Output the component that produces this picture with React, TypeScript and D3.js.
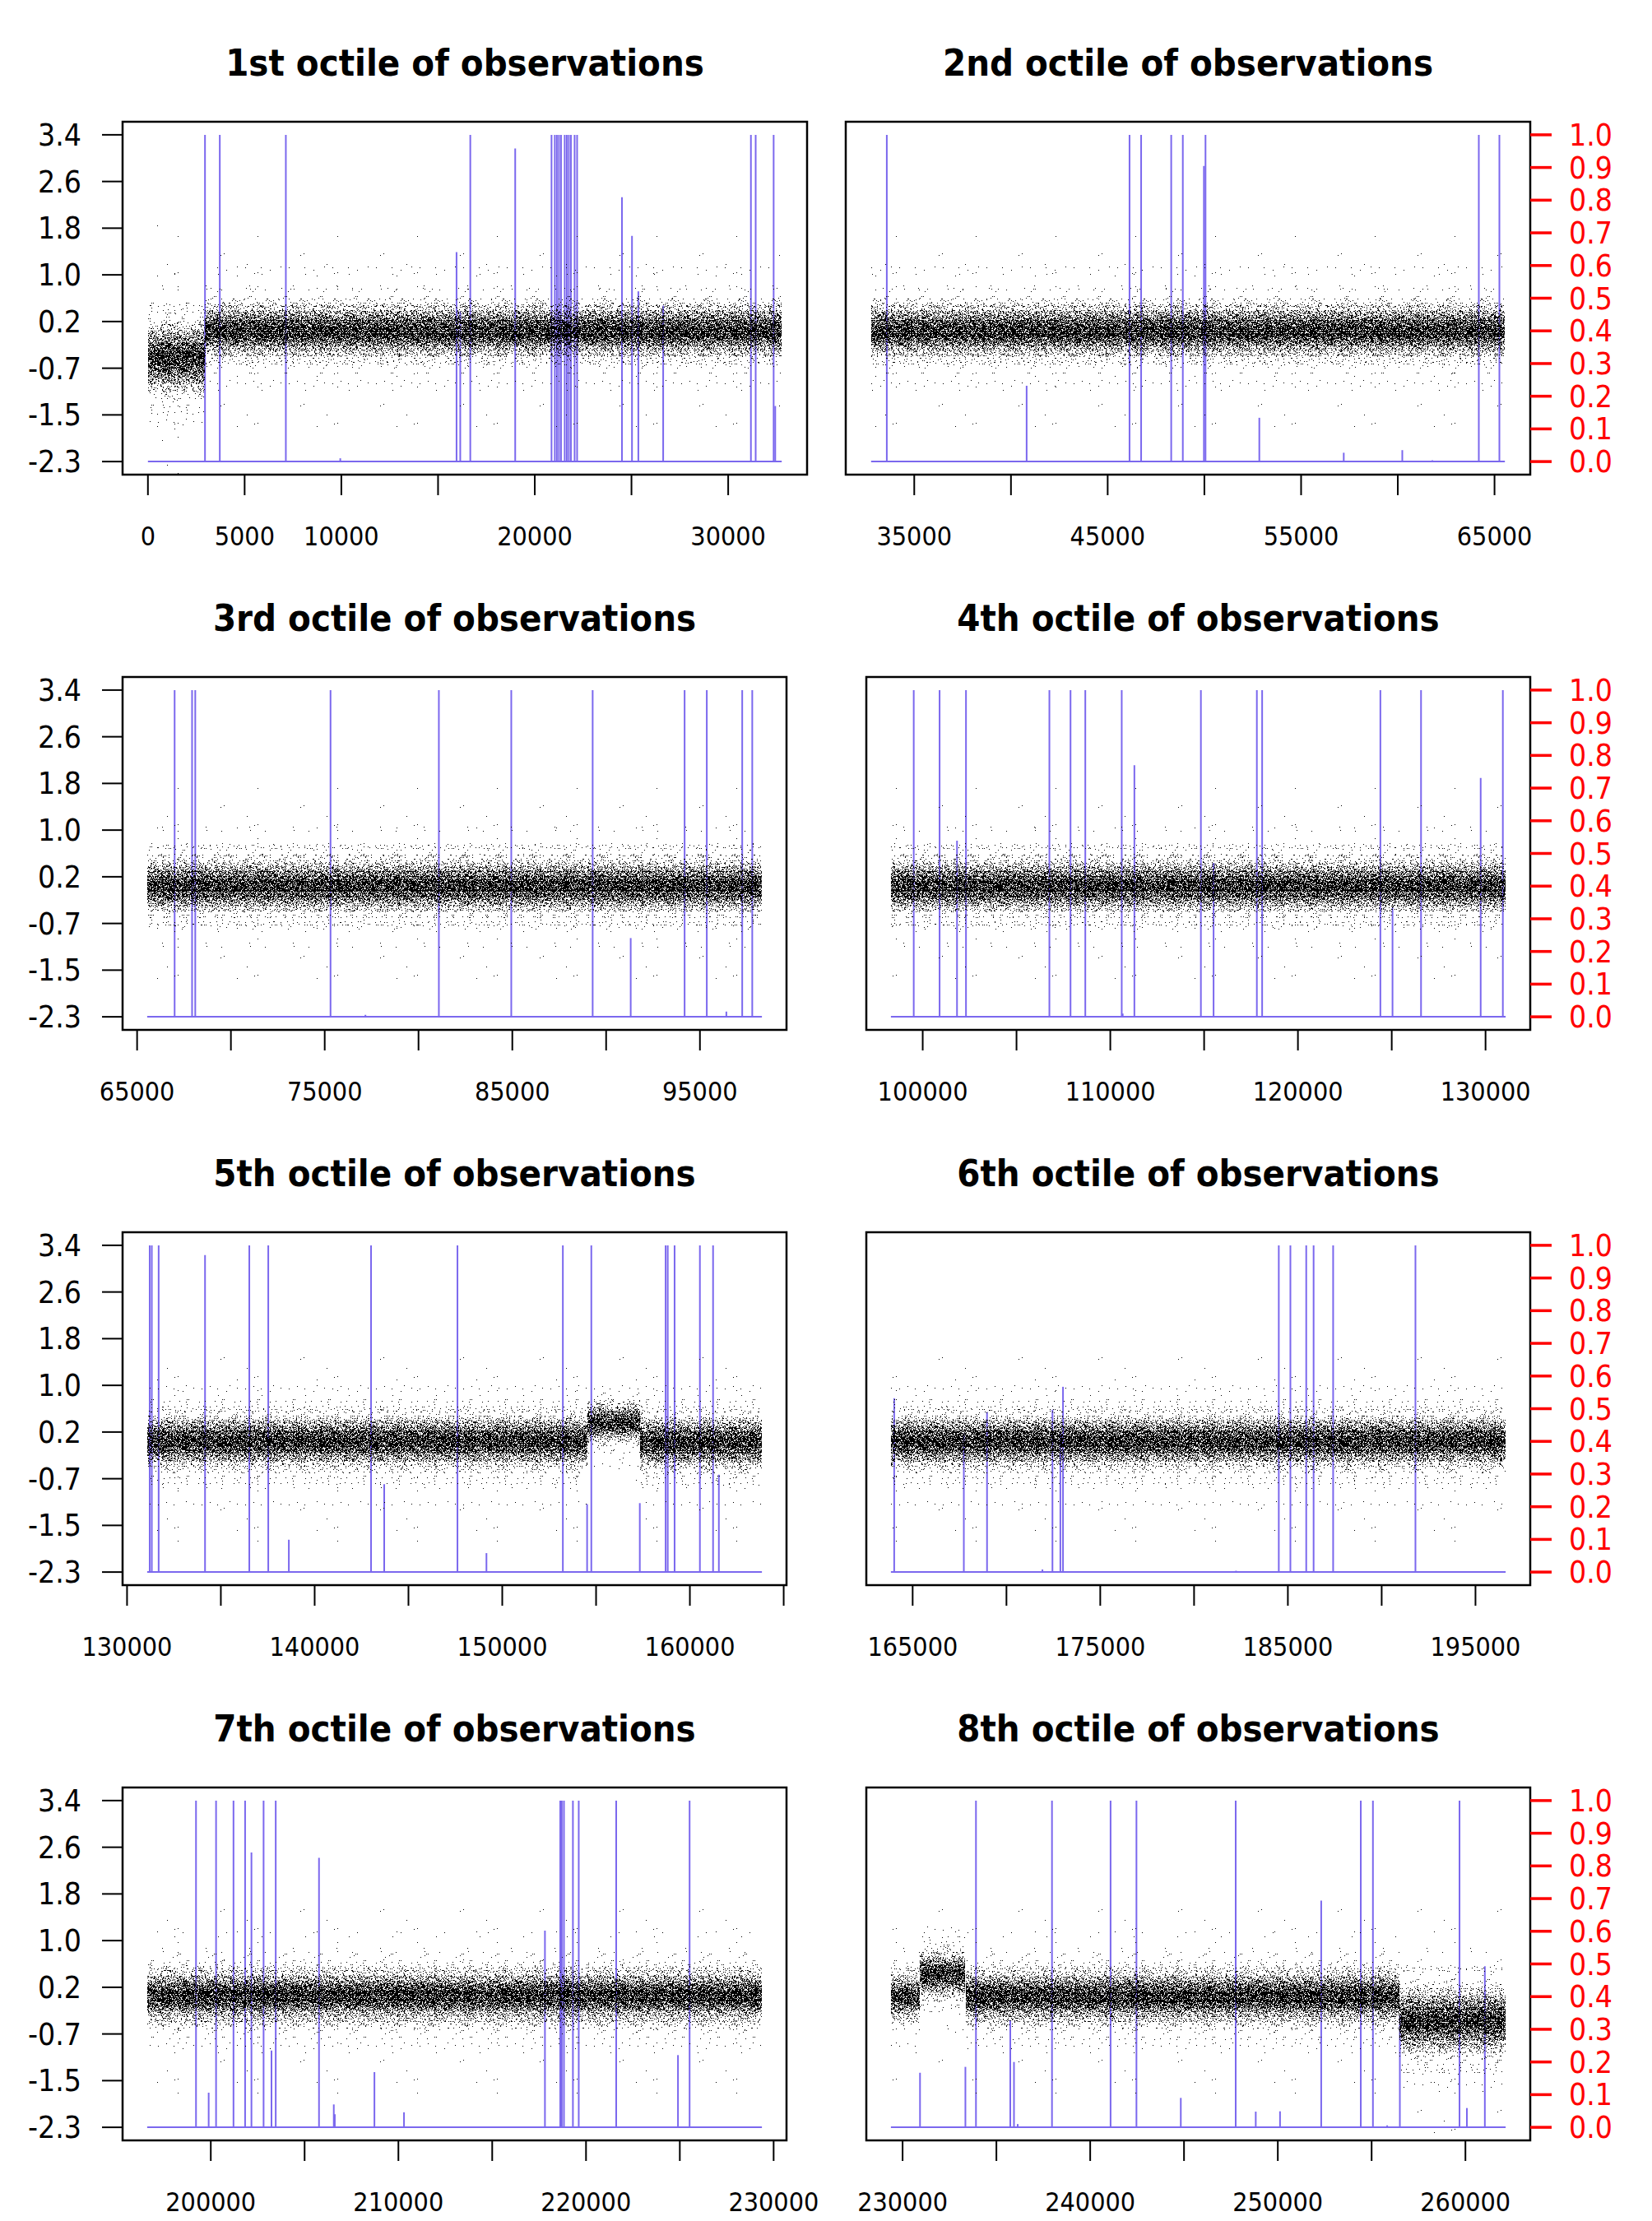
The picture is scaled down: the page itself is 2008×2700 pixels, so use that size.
import React from "react";
import * as d3 from "d3";

// ---------- data ----------
const OBS_PER_OCTILE = 32768;
const Y_MIN = -2.3;
const Y_MAX = 3.4;

const TITLES = [
  "1st octile of observations",
  "2nd octile of observations",
  "3rd octile of observations",
  "4th octile of observations",
  "5th octile of observations",
  "6th octile of observations",
  "7th octile of observations",
  "8th octile of observations",
];

const LEFT_TICK_LABELS = ["-2.3", "-1.5", "-0.7", "0.2", "1.0", "1.8", "2.6", "3.4"];
const RIGHT_TICK_LABELS = ["0.0", "0.1", "0.2", "0.3", "0.4", "0.5", "0.6", "0.7", "0.8", "0.9", "1.0"];

const X_TICKS_1 = [0, 5000, 10000, 15000, 20000, 25000, 30000];
const X_LABELS_1 = [0, 5000, 10000, 20000, 30000];
const X_TICKS_2 = [35000, 40000, 45000, 50000, 55000, 60000, 65000];
const X_LABELS_2 = [35000, 45000, 55000, 65000];
const X_TICKS_3 = [65000, 70000, 75000, 80000, 85000, 90000, 95000];
const X_LABELS_3 = [65000, 75000, 85000, 95000];
const X_TICKS_4 = [100000, 105000, 110000, 115000, 120000, 125000, 130000];
const X_LABELS_4 = [100000, 110000, 120000, 130000];
const X_TICKS_5 = [130000, 135000, 140000, 145000, 150000, 155000, 160000, 165000];
const X_LABELS_5 = [130000, 140000, 150000, 160000];
const X_TICKS_6 = [165000, 170000, 175000, 180000, 185000, 190000, 195000];
const X_LABELS_6 = [165000, 175000, 185000, 195000];
const X_TICKS_7 = [200000, 205000, 210000, 215000, 220000, 225000, 230000];
const X_LABELS_7 = [200000, 210000, 220000, 230000];
const X_TICKS_8 = [230000, 235000, 240000, 245000, 250000, 255000, 260000];
const X_LABELS_8 = [230000, 240000, 250000, 260000];

// observation levels: [first obs, last obs, mean, spread]
const LEVELS_1: [number, number, number, number][] = [
  [1, 2950, -0.49, 0.21],
  [2951, 32768, -0.02, 0.16],
];
const LEVELS_2: [number, number, number, number][] = [[32769, 65536, -0.02, 0.16]];
const LEVELS_3: [number, number, number, number][] = [[65537, 98304, -0.02, 0.16]];
const LEVELS_4: [number, number, number, number][] = [[98305, 131072, -0.02, 0.16]];
const LEVELS_5: [number, number, number, number][] = [
  [131073, 154520, -0.02, 0.16],
  [154521, 157330, 0.31, 0.12],
  [157331, 163840, -0.04, 0.16],
];
const LEVELS_6: [number, number, number, number][] = [[163841, 196608, -0.02, 0.16]];
const LEVELS_7: [number, number, number, number][] = [[196609, 229376, -0.01, 0.16]];
const LEVELS_8: [number, number, number, number][] = [
  [229377, 230930, -0.02, 0.14],
  [230931, 233350, 0.37, 0.14],
  [233351, 256500, -0.02, 0.16],
  [256501, 262144, -0.44, 0.2],
];

// spikes of the probability line: [obs, probability]
const SPIKES_1: [number, number][] = [
  [2951, 1], [3716, 1], [7131, 1], [9945, 0.01], [15956, 0.641], [16148, 0.46], [16667, 1],
  [18989, 0.958], [20867, 1], [21038, 1], [21144, 1], [21251, 1], [21357, 1], [21549, 1],
  [21656, 1], [21762, 1], [21869, 1], [22061, 1], [22189, 1], [24508, 0.809], [25027, 0.691],
  [25355, 0.521], [26639, 0.477], [31175, 1], [31421, 1], [32350, 1], [32432, 0.17],
];
const SPIKES_2: [number, number][] = [
  [33581, 1], [40810, 0.232], [46130, 1], [46730, 1], [48285, 1], [48885, 1], [49976, 0.905],
  [50058, 1], [52840, 0.134], [57205, 0.027], [60232, 0.035], [61787, 0.004], [64188, 1], [65252, 1],
];
const SPIKES_3: [number, number][] = [
  [67000, 1], [67930, 1], [68100, 1], [75310, 1], [77170, 0.006], [81085, 1], [84944, 1],
  [89282, 1], [91310, 0.241], [94183, 1], [95366, 1], [96408, 0.016], [97254, 1], [97789, 1],
];
const SPIKES_4: [number, number][] = [
  [99522, 1], [100900, 1], [101829, 0.539], [102307, 1], [106753, 1], [107879, 1], [108667, 1],
  [110608, 1], [110660, 0.01], [111283, 0.77], [114828, 1], [115504, 0.471], [117811, 1],
  [118093, 1], [124395, 1], [125042, 0.334], [126562, 1], [129741, 0.731], [130923, 1],
];
const SPIKES_5: [number, number][] = [
  [131208, 1], [131320, 1], [131685, 1], [134157, 0.97], [136517, 1], [137528, 1], [138624, 0.099],
  [143006, 1], [143708, 0.269], [147612, 1], [149157, 0.058], [153230, 1], [154522, 0.208],
  [154747, 1], [157331, 0.211], [158708, 1], [158820, 1], [159185, 1], [160534, 1], [161236, 1],
  [161545, 0.298],
];
const SPIKES_6: [number, number][] = [
  [164016, 0.532], [167728, 0.424], [168965, 0.49], [171918, 0.008], [172452, 0.497],
  [172874, 0.431], [173014, 0.567], [182238, 0.004], [184516, 1], [185135, 1], [185979, 1],
  [186372, 1], [187413, 1], [191800, 1],
];
const SPIKES_7: [number, number][] = [
  [199212, 1], [199887, 0.106], [200281, 1], [201210, 1], [201829, 1], [202167, 0.841],
  [202814, 1], [203236, 0.235], [203461, 1], [205768, 0.825], [206556, 0.07], [206610, 0.04],
  [208722, 0.169], [210298, 0.046], [217811, 0.602], [218627, 1], [218711, 1], [218824, 1],
  [219302, 1], [219612, 1], [221609, 1], [224902, 0.221], [225521, 1],
];
const SPIKES_8: [number, number][] = [
  [230929, 0.167], [233348, 0.185], [233911, 1], [235740, 0.328], [235937, 0.2], [236134, 0.01],
  [237963, 1], [241086, 1], [242465, 1], [244829, 0.09], [247755, 1], [248824, 0.048],
  [250118, 0.049], [252313, 0.694], [254423, 1], [255070, 1], [255830, 0.006], [256505, 0.342],
  [259685, 1], [260079, 0.059], [261035, 0.493],
];

const PANELS = [
  { title: TITLES[0], spikes: SPIKES_1, levels: LEVELS_1, ticks: X_TICKS_1, labels: X_LABELS_1 },
  { title: TITLES[1], spikes: SPIKES_2, levels: LEVELS_2, ticks: X_TICKS_2, labels: X_LABELS_2 },
  { title: TITLES[2], spikes: SPIKES_3, levels: LEVELS_3, ticks: X_TICKS_3, labels: X_LABELS_3 },
  { title: TITLES[3], spikes: SPIKES_4, levels: LEVELS_4, ticks: X_TICKS_4, labels: X_LABELS_4 },
  { title: TITLES[4], spikes: SPIKES_5, levels: LEVELS_5, ticks: X_TICKS_5, labels: X_LABELS_5 },
  { title: TITLES[5], spikes: SPIKES_6, levels: LEVELS_6, ticks: X_TICKS_6, labels: X_LABELS_6 },
  { title: TITLES[6], spikes: SPIKES_7, levels: LEVELS_7, ticks: X_TICKS_7, labels: X_LABELS_7 },
  { title: TITLES[7], spikes: SPIKES_8, levels: LEVELS_8, ticks: X_TICKS_8, labels: X_LABELS_8 },
];

// ---------- layout / style ----------
const W = 2008;
const H = 2700;
const BOX_X: [number, number][] = [
  [149, 981], [1028, 1860],
  [149, 956], [1053, 1860],
  [149, 956], [1053, 1860],
  [149, 956], [1053, 1860],
];
const ROW_TOP = 148;
const ROW_STEP = 675;
const BOX_H = 429;
const BLUE = "#7B68EE";
const FONT = "'DejaVu Sans Condensed', 'DejaVu Sans', sans-serif";

// dot texture layers (spread multiplier, dot density, tile size)
const TEX_LAYERS = [
  { mult: 0.6, dens: 0.4, w: 19, h: 13 },
  { mult: 1.2, dens: 0.4, w: 23, h: 17 },
  { mult: 1.7, dens: 0.3, w: 29, h: 11 },
  { mult: 2.2, dens: 0.18, w: 31, h: 19 },
  { mult: 2.8, dens: 0.1, w: 37, h: 23 },
  { mult: 3.5, dens: 0.05, w: 41, h: 29 },
  { mult: 4.7, dens: 0.02, w: 43, h: 31 },
  { mult: 7, dens: 0.004, w: 53, h: 47 },
  { mult: 11, dens: 0.001, w: 97, h: 61 },
];

function texHash(x: number, y: number, s: number) {
  let h = (Math.imul(x, 374761393) + Math.imul(y, 668265263) + Math.imul(s, 1442695041)) | 0;
  h = Math.imul(h ^ (h >>> 13), 1274126177);
  h ^= h >>> 16;
  return (h >>> 0) / 4294967296;
}

function Textures() {
  return (
    <>
      {TEX_LAYERS.map((L, k) => {
        const dots: [number, number][] = [];
        for (let i = 0; i < L.w; i++)
          for (let j = 0; j < L.h; j++) if (texHash(i, j, k + 7) < L.dens) dots.push([i, j]);
        return (
          <pattern key={k} id={`tex${k}`} patternUnits="userSpaceOnUse" x={0} y={k * 3} width={L.w} height={L.h}>
            {dots.map(([i, j], n) => (
              <rect key={n} x={i} y={j} width={1} height={1} fill="#000" shapeRendering="crispEdges" />
            ))}
          </pattern>
        );
      })}
    </>
  );
}

type PanelDef = (typeof PANELS)[number];

function Panel({ p, idx }: { p: PanelDef; idx: number }) {
  const row = Math.floor(idx / 2);
  const right = idx % 2 === 1;
  const [bx0, bx1] = BOX_X[idx];
  const by0 = ROW_TOP + ROW_STEP * row;
  const by1 = by0 + BOX_H;
  const start = idx * OBS_PER_OCTILE + 1;
  const end = (idx + 1) * OBS_PER_OCTILE;
  const pad = (end - start) * 0.04;
  const x = d3.scaleLinear().domain([start - pad, end + pad]).range([bx0, bx1]);
  const y = d3.scaleLinear().domain([-0.04, 1.04]).range([by1, by0]);
  const frac = d3.scaleLinear().domain([Y_MIN, Y_MAX]).range([0, 1]);
  const cx = (bx0 + bx1) / 2;
  const clipId = `clip${idx}`;

  return (
    <g>
      <defs>
        <clipPath id={clipId}>
          <rect x={bx0} y={by0} width={bx1 - bx0} height={by1 - by0} />
        </clipPath>
      </defs>
      <text x={cx} y={by0 - 56} textAnchor="middle" fontFamily={FONT} fontStretch="condensed" fontWeight="bold" fontSize={45}>
        {p.title}
      </text>
      <g clipPath={`url(#${clipId})`}>
        {/* probability line */}
        <line x1={x(start)} x2={x(end)} y1={y(0)} y2={y(0)} stroke={BLUE} strokeWidth={2} />
        {p.spikes.map(([o, v], i) => (
          <line key={i} x1={x(o)} x2={x(o)} y1={y(0)} y2={y(v)} stroke={BLUE} strokeWidth={2} />
        ))}
        {/* observations */}
        {p.levels.map(([s, e, m, sd], i) =>
          TEX_LAYERS.map((L, k) => {
            const yt = Math.round(y(frac(m + L.mult * sd)));
            const yb = Math.round(y(frac(m - L.mult * sd)));
            const xs = Math.round(x(s));
            const xe = Math.round(x(e));
            return <rect key={`${i}-${k}`} x={xs} y={yt} width={xe - xs} height={yb - yt} fill={`url(#tex${k})`} />;
          })
        )}
      </g>
      <rect x={bx0} y={by0} width={bx1 - bx0} height={by1 - by0} fill="none" stroke="#000" strokeWidth={2.5} />
      {/* x axis */}
      {p.ticks.map((t) => (
        <line key={t} x1={x(t)} x2={x(t)} y1={by1} y2={by1 + 25} stroke="#000" strokeWidth={2} />
      ))}
      {p.labels.map((t) => (
        <text key={t} x={x(t)} y={by1 + 86} textAnchor="middle" fontFamily={FONT} fontStretch="condensed" fontSize={32}>
          {String(t)}
        </text>
      ))}
      {/* y axis */}
      {!right &&
        LEFT_TICK_LABELS.map((lab, k) => {
          const yy = y(k / (LEFT_TICK_LABELS.length - 1));
          return (
            <g key={lab}>
              <line x1={bx0 - 25} x2={bx0} y1={yy} y2={yy} stroke="#000" strokeWidth={2} />
              <text x={bx0 - 50} y={yy + 13} textAnchor="end" fontFamily={FONT} fontStretch="condensed" fontSize={37}>
                {lab}
              </text>
            </g>
          );
        })}
      {right &&
        RIGHT_TICK_LABELS.map((lab, k) => {
          const yy = y(k / (RIGHT_TICK_LABELS.length - 1));
          return (
            <g key={lab}>
              <line x1={bx1} x2={bx1 + 26} y1={yy} y2={yy} stroke="#FF0000" strokeWidth={3.5} />
              <text x={bx1 + 47} y={yy + 13} textAnchor="start" fill="#FF0000" fontFamily={FONT} fontStretch="condensed" fontSize={37}>
                {lab}
              </text>
            </g>
          );
        })}
    </g>
  );
}

export default function App() {
  return (
    <svg
      width={W}
      height={H}
      viewBox={`0 0 ${W} ${H}`}
      xmlns="http://www.w3.org/2000/svg"
      style={{ position: "absolute", left: 0, top: 0, background: "#fff" }}
    >
      <defs>
        <Textures />
      </defs>
      <rect x={0} y={0} width={W} height={H} fill="#fff" />
      {PANELS.map((p, i) => (
        <Panel key={i} p={p} idx={i} />
      ))}
    </svg>
  );
}
